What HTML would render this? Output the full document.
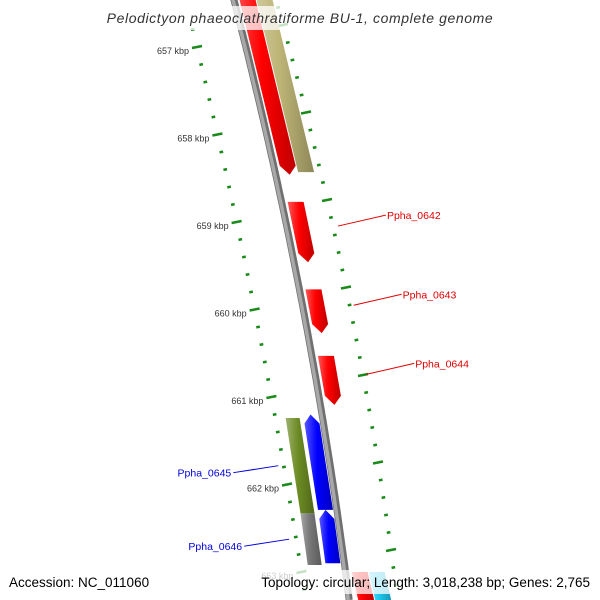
<!DOCTYPE html>
<html><head><meta charset="utf-8"><style>
html,body{margin:0;background:#fff;width:600px;height:600px;overflow:hidden}
svg{display:block;font-family:"Liberation Sans",sans-serif}
</style></head><body>
<svg id="map" width="600" height="600" viewBox="0 0 600 600" xmlns="http://www.w3.org/2000/svg" overflow="hidden">
<g id="ticks"></g>
<g id="backbone"></g>
<g id="genes"></g>
<g id="labels"></g>
<rect x="95" y="6" width="410" height="24" fill="#fff" opacity="0.75"/>
<text x="300" y="23" text-anchor="middle" font-size="14" font-style="italic" letter-spacing="0.6" fill="#333">Pelodictyon phaeoclathratiforme BU-1, complete genome</text>
<rect x="4" y="570" width="150" height="24" fill="#fff" opacity="0.75"/>
<text x="9" y="587" font-size="13.5" fill="#000">Accession: NC_011060</text>
<rect x="257" y="570" width="340" height="24" fill="#fff" opacity="0.75"/>
<text x="590" y="587" text-anchor="end" font-size="13.5" fill="#000">Topology: circular; Length: 3,018,238 bp; Genes: 2,765</text>
</svg>
<script>
const geneNames=["big-red","khaki","Ppha_0642","Ppha_0643","Ppha_0644","blue-a","blue-b","Ppha_0645","Ppha_0646","bottom-red","bottom-cyan"];
const geneStart=[656.2,656.2,658.77,659.77,660.53,661.2,662.29,661.24,662.33,663.0,663.0];
const geneEnd=[658.46,658.43,659.46,660.27,661.09,662.29,662.9,662.33,662.92,663.6,663.6];
const geneLane=[1,2,1,1,1,-1,-1,-2,-2,1,2];
const geneStrand=[1,0,1,1,1,-1,-1,0,0,0,0];
const geneColor=["#ff0000","#bdb576","#ff0000","#ff0000","#ff0000","#0000ff","#0000ff","#6b8a23","#777777","#ff0000","#1ec8f0"];
const tickStart=656.8, tickEnd=663.6;
const majorTicks=[657,658,659,660,661,662,663];
const labelTexts=["Ppha_0642","Ppha_0643","Ppha_0644","Ppha_0645","Ppha_0646"];
const labelColors=["#e00000","#e00000","#e00000","#0000dd","#0000dd"];

const NS="http://www.w3.org/2000/svg";
function yOf(p){return 47+87.5*(p-657);}
function bx(y){return 234+0.258*y-0.00011*y*y;}
const laneOff={"1":[6,22],"2":[23,39],"-1":[-19,-4],"-2":[-37,-23]};
function mk(tag,attrs,parent){const e=document.createElementNS(NS,tag);for(const k in attrs)e.setAttribute(k,attrs[k]);parent.appendChild(e);return e;}

const tg=document.getElementById('ticks');
for(let i=0;Math.round(tickStart*5)+i<=Math.round(tickEnd*5);i++){
  const p=(Math.round(tickStart*5)+i)/5, t=p-657;
  const major=Math.abs(p-Math.round(p))<1e-6;
  const ly=yOf(p), lx=197+21*t-0.6*t*t;
  const ry=25+87.5*t, rx=283+24*t-t*t;
  const L=major?5:1.8;
  const a=mk('line',{x1:lx-L,y1:ly+L*0.2,x2:lx+L,y2:ly-L*0.2,stroke:'#1a8a1a','stroke-width':2.5},tg);
  
  
  const b=mk('line',{x1:rx-L,y1:ry+L*0.2,x2:rx+L,y2:ry-L*0.2,stroke:'#1a8a1a','stroke-width':2.5},tg);
  
  
}
majorTicks.forEach(p=>{
  const t=p-657, ly=yOf(p), lx=197+21*t-0.6*t*t;
  const tx=mk('text',{x:lx-8,y:ly+7,'text-anchor':'end','font-size':9,fill:'#333'},tg);
  tx.textContent=p+' kbp';
  
  
});

const bg=document.getElementById('backbone');
let d='';for(let y=-5;y<=600;y+=5){d+=(y===-5?'M':'L')+bx(y).toFixed(1)+' '+y+' ';}
const bb1=mk('path',{d:d,stroke:'#707070',fill:'none','stroke-width':7},bg);


const bb2=mk('path',{d:d,stroke:'#a8a8a8',fill:'none','stroke-width':3.5,transform:'translate(-1,0)'},bg);



const gg=document.getElementById('genes');
function shade(c,f){const n=parseInt(c.slice(1),16);let r=n>>16,g=(n>>8)&255,b=n&255;
 const m=v=>Math.max(0,Math.min(255,Math.round(f>0?v+(255-v)*f:v*(1+f))));return `rgb(${m(r)},${m(g)},${m(b)})`;}
geneNames.forEach((nm,i)=>{
  const y1=yOf(geneStart[i]), y2=yOf(geneEnd[i]);
  const o=laneOff[String(geneLane[i])];
  const x=(y,k)=>bx(y)+o[k];
  const s=geneStrand[i], ah=9;
  let pts;
  if(s===1){pts=[[x(y1,0),y1],[x(y1,1),y1],[x(y2-ah,1),y2-ah],[(x(y2,0)+x(y2,1))/2,y2],[x(y2-ah,0),y2-ah]];}
  else if(s===-1){pts=[[(x(y1,0)+x(y1,1))/2,y1],[x(y1+ah,1),y1+ah],[x(y2,1),y2],[x(y2,0),y2],[x(y1+ah,0),y1+ah]];}
  else pts=[[x(y1,0),y1],[x(y1,1),y1],[x(y2,1),y2],[x(y2,0),y2]];
  const g=mk('g',{},gg);
  
  
  const fid='gr'+i;
  const lg=mk('linearGradient',{id:fid,x1:0,y1:0,x2:1,y2:0},g);
  mk('stop',{offset:'0','stop-color':shade(geneColor[i],0.35)},lg);
  mk('stop',{offset:'0.3','stop-color':shade(geneColor[i],0.1)},lg);
  mk('stop',{offset:'0.45','stop-color':geneColor[i]},lg);
  mk('stop',{offset:'1','stop-color':shade(geneColor[i],-0.25)},lg);
  const poly=mk('polygon',{points:pts.map(p=>p[0].toFixed(1)+','+Math.min(600,p[1]).toFixed(1)).join(' '),fill:'url(#'+fid+')'},g);
  
  
});

const lb=document.getElementById('labels');
const labelGene=[2,3,4,7,8];
const labelSide=[1,1,1,-1,-1];
labelTexts.forEach((tx,j)=>{
  const gi=labelGene[j];
  const ym=(yOf(geneStart[gi])+yOf(geneEnd[gi]))/2;
  let x1,y1,x2,y2,tx0,anchor;
  if(labelSide[j]===1){x1=bx(ym)+50;y1=ym-6;x2=x1+48;y2=y1-11;tx0=x2+1;anchor='start';}
  else{x1=bx(ym)-52;y1=ym;x2=x1-45;y2=y1+7;tx0=x2-2;anchor='end';}
  const l=mk('line',{x1:x1,y1:y1,x2:x2,y2:y2,stroke:labelColors[j],'stroke-width':1},lb);
  
  
  const t=mk('text',{x:tx0,y:y2+4,'text-anchor':anchor,'font-size':10.5,fill:labelColors[j]},lb);
  t.textContent=tx;
  
  
});
</script>
</body></html>
